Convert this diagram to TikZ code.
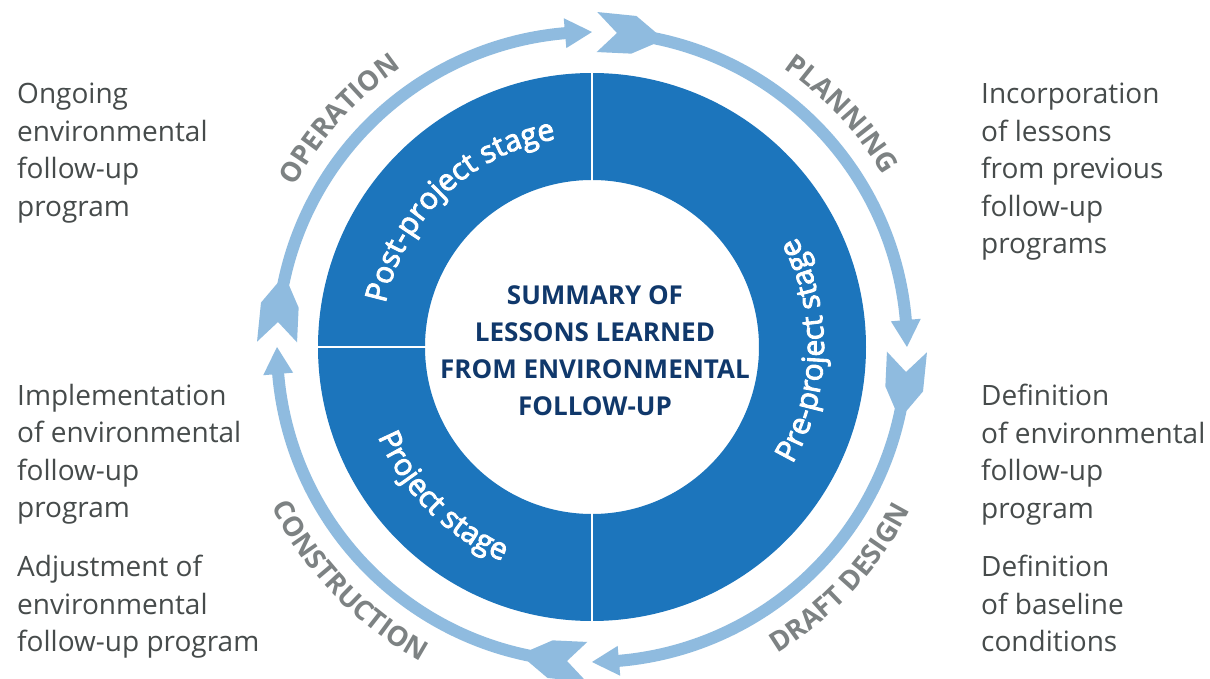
\documentclass[tikz,border=0pt]{standalone}
\usepackage{fontspec}
\setmainfont{Open Sans}
\newfontfamily\stagefamily[FakeBold=3]{Open Sans}
\usetikzlibrary{decorations.text}
\definecolor{ringblue}{RGB}{28,117,188}
\definecolor{arclight}{RGB}{143,187,223}
\definecolor{navy}{RGB}{16,56,107}
\definecolor{arcgray}{RGB}{125,130,131}
\definecolor{bodygray}{RGB}{70,75,75}
\newcommand\arclabfont{\fontsize{27.5}{27.5}\selectfont\bfseries}
\newcommand\stagefont{\stagefamily\fontsize{30}{30}\selectfont}
\tikzset{
  sidetext/.style={anchor=north west, inner sep=0pt, align=left, text=bodygray,
    font=\fontsize{28}{37.5}\selectfont},
  centertext/.style={anchor=north, inner sep=0pt, align=center, text=navy,
    font=\fontsize{26}{37}\selectfont\bfseries},
  arclab/.style={decorate, decoration={text along path, text align=center,
    text color=arcgray, text={|\arclabfont|#1}}},
  stagelab/.style={decorate, decoration={text along path, text align=center,
    text color=white, text={|\stagefont|#1}}},
  divider/.style={draw=white, line width=2.5pt},
}
\begin{document}
\begin{tikzpicture}[x=1pt,y=1pt]
\useasboundingbox (-592,-332) rectangle (618,347);
\fill[white] (-592,-332) rectangle (618,347);
\coordinate (C) at (0,0);
% ring
\fill[ringblue, even odd rule] (C) circle[radius=274] (C) circle[radius=167];
\draw[divider] (0,165) -- (0,276);
\draw[divider] (0,-165) -- (0,-276);
\draw[divider] (-165,0) -- (-276,0);
% outer cycle arrows
\foreach \t in {90,0,-90,-180}{
  \fill[arclight] (\t-0.91:335) -- (\t-7.64:334) -- (\t-11.46:321) -- (\t-11.46:309)
     -- (\t-7.64:296) -- (\t-0.91:295) -- (\t-4.55:315) -- cycle;
  \draw[arclight, line width=12pt] (\t-10.9:315) arc[start angle=\t-10.9, end angle=\t-90+4.7, radius=315];
  \fill[arclight] (\t-90+4.91:330) -- (\t-90:315) -- (\t-90+4.91:300) -- cycle;
}
% arc labels
\path[arclab=OPERATION] (178:338) arc[start angle=178, end angle=98, radius=338];
\path[arclab=PLANNING] (83:338) arc[start angle=83, end angle=3, radius=338];
\path[arclab={DRAFT DESIGN}] (-83:358) arc[start angle=-83, end angle=-3, radius=358];
\path[arclab=CONSTRUCTION] (-176:358) arc[start angle=-176, end angle=-96, radius=358];
% stage labels
\path[stagelab={Post-project stage}] (184:211) arc[start angle=184, end angle=84, radius=211];
\path[stagelab={Pre-project stage}] (-51:232) arc[start angle=-51, end angle=49, radius=232];
\path[stagelab={Project stage}] (-180:232) arc[start angle=-180, end angle=-90, radius=232];
% center
\node[centertext] (summary) at (3,62) {SUMMARY OF\\LESSONS LEARNED\\FROM ENVIRONMENTAL\\FOLLOW-UP};
% side texts
\node[sidetext] (ongoing) at (-575,264) {Ongoing\\environmental\\follow-up\\program};
\node[sidetext] (implement) at (-575,-37) {Implementation\\of environmental\\follow-up\\program};
\node[sidetext] (adjust) at (-575,-208) {Adjustment of\\environmental\\follow-up program};
\node[sidetext] (incorp) at (389,264) {Incorporation\\of lessons\\from previous\\follow-up\\programs};
\node[sidetext] (defprog) at (389,-37) {Definition\\of environmental\\follow-up\\program};
\node[sidetext] (defbase) at (389,-208) {Definition\\of baseline\\conditions};
\end{tikzpicture}
\end{document}
